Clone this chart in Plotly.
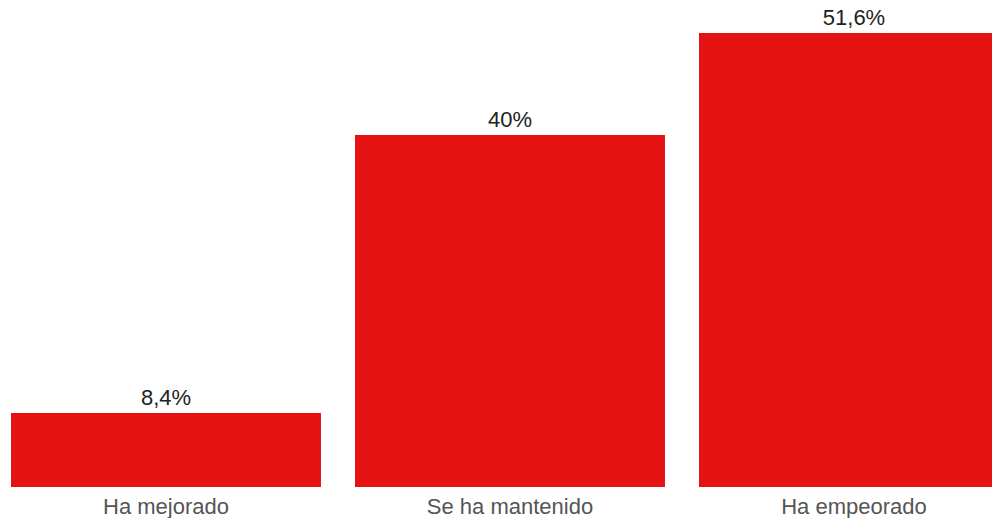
import plotly.graph_objects as go

categories = ["Ha mejorado", "Se ha mantenido", "Ha empeorado"]
values = [8.4, 40, 51.6]
labels = ["8,4%", "40%", "51,6%"]

fig = go.Figure(go.Bar(
    x=categories, y=values, text=labels, textposition="outside",
    marker=dict(color="#e41212", line=dict(width=0)),
    textfont=dict(family="Liberation Sans, Arial, sans-serif", size=22, color="#222222"),
    cliponaxis=False, hoverinfo="skip",
))
fig.update_layout(
    width=1000, height=518,
    margin=dict(l=0, r=0, t=20, b=39),
    paper_bgcolor="white", plot_bgcolor="white",
    bargap=0.099, showlegend=False,
    font=dict(family="Liberation Sans, Arial, sans-serif"),
)
fig.update_xaxes(range=[-0.4593, 2.4477], showgrid=False, showline=False, zeroline=False,
                 ticks="", tickfont=dict(size=22, color="#555555"), ticklabelstandoff=4,
                 fixedrange=True)
fig.update_yaxes(range=[0, 52.16], visible=False, fixedrange=True)
fig.write_html("out.html")
